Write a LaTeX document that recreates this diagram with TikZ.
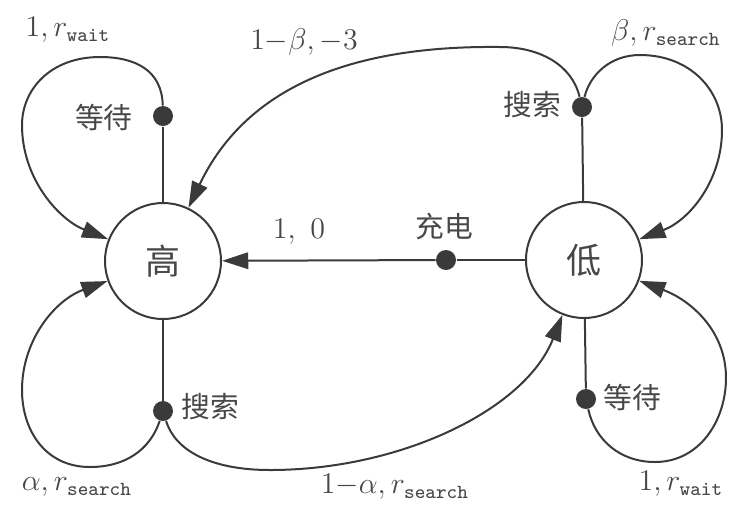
\documentclass[tikz,border=0pt]{standalone}
\usepackage{fontspec}
\newfontfamily\cjk{Noto Sans CJK SC}
\usetikzlibrary{arrows.meta}
\definecolor{ink}{HTML}{3A3A3A}
\definecolor{txt}{HTML}{474747}
\begin{document}
\begin{tikzpicture}[x=0.4pt,y=-0.4pt,
  state/.style={circle,draw=ink,line width=0.8pt,minimum size=46.4pt,inner sep=0pt,font=\cjk\fontsize{14}{16}\selectfont,text=txt},
  act/.style={circle,fill=ink,minimum size=8pt,inner sep=0pt},
  conn/.style={draw=ink,line width=0.8pt},
  arr/.style={conn,-{Triangle[length=10.5pt,width=6.6pt]}},
  lab/.style={text=txt,font=\cjk\fontsize{11.5}{13}\selectfont,inner sep=0pt},
  mlab/.style={text=txt,font=\fontsize{12}{14}\selectfont,inner sep=0pt}]
\useasboundingbox (0,0) rectangle (748,509);
% states
\node[state] (H) at (163,261) {高};
\node[state] (L) at (584,260) {低};
% action dots
\node[act] (Hw) at (163,116) {};
\node[act] (Hs) at (163,411) {};
\node[act] (Ls) at (582,107) {};
\node[act] (Lw) at (586,399) {};
\node[act] (C) at (446,260) {};
% action labels
\node[lab] (tHw) at (104,117) {等待};
\node[lab] (tHs) at (210,407) {搜索};
\node[lab] (tLs) at (532,105) {搜索};
\node[lab] (tLw) at (632,397) {等待};
\node[lab] (tC) at (444,227) {充电};
% transition labels
\node[mlab] (pHw) at (68,30) {$1, r_{\mathtt{wait}}$};
\node[mlab] (pLs) at (666,33) {$\beta, r_{\mathtt{search}}$};
\node[mlab] (pLH) at (304,42) {$1{-}\beta, -3$};
\node[mlab] (pC) at (299,232) {$1,\ 0$};
\node[mlab] (pHs) at (77,487) {$\alpha, r_{\mathtt{search}}$};
\node[mlab] (pHL) at (395,487) {$1{-}\alpha, r_{\mathtt{search}}$};
\node[mlab] (pLw) at (681,484) {$1, r_{\mathtt{wait}}$};
% stems
\draw[conn] (H) -- (Hw);
\draw[conn] (H) -- (Hs);
\draw[conn] (L) -- (Ls);
\draw[conn] (L) -- (Lw);
\draw[conn] (L) -- (C);
\draw[arr] (C) -- (H);
% transitions
\draw[arr] (Hw) .. controls (162,70) and (135,57) .. (100,57) .. controls (50,57) and (22,90) .. (22,125) .. controls (22,180) and (60,220) .. (H);
\draw[arr] (Hs) .. controls (150,450) and (125,467) .. (90,467) .. controls (45,467) and (22,430) .. (22,390) .. controls (22,340) and (55,300) .. (H);
\draw[arr] (Hs) .. controls (175,450) and (210,470) .. (270,470) .. controls (400,470) and (525,410) .. (L);
\draw[arr] (Ls) .. controls (590,75) and (610,55) .. (640,55) .. controls (690,55) and (722,90) .. (722,130) .. controls (722,180) and (690,220) .. (L);
\draw[arr] (Ls) .. controls (572,65) and (540,47) .. (500,47) .. controls (330,45) and (240,100) .. (H);
\draw[arr] (Lw) .. controls (595,440) and (620,462) .. (655,462) .. controls (700,462) and (726,420) .. (726,378) .. controls (726,330) and (690,300) .. (L);
\end{tikzpicture}
\end{document}
